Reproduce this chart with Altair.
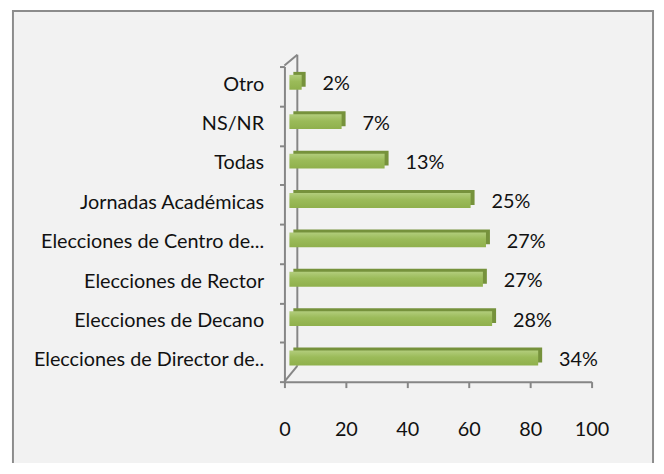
import altair as alt
import pandas as pd

categories = [
    "Otro",
    "NS/NR",
    "Todas",
    "Jornadas Académicas",
    "Elecciones de Centro de...",
    "Elecciones de Rector",
    "Elecciones de Decano",
    "Elecciones de Director de..",
]
values = [4, 17, 31, 59, 64, 63, 66, 81]
labels = ["2%", "7%", "13%", "25%", "27%", "27%", "28%", "34%"]
x_ticks = [0, 20, 40, 60, 80, 100]

df = pd.DataFrame({"cat": categories, "val": values, "lab": labels})
one = pd.DataFrame({"k": [0]})

W, H = 310, 318
FONT = "Lato"
FS = 20
AXIS_GRAY = "#868686"
TEXT = "#111111"

x_enc = alt.X(
    "val:Q",
    scale=alt.Scale(domain=[0, 100], nice=False, zero=True),
    axis=alt.Axis(
        values=x_ticks, title=None, grid=False,
        domainColor=AXIS_GRAY, domainWidth=2,
        tickColor=AXIS_GRAY, tickWidth=2, tickSize=6,
        labelPadding=32, labelFont=FONT, labelFontSize=FS, labelColor=TEXT,
        labelFlush=False, zindex=1,
    ),
)
y_enc = alt.Y(
    "cat:N", sort=categories,
    scale=alt.Scale(paddingInner=0, paddingOuter=0),
    axis=alt.Axis(
        title=None, domainColor=AXIS_GRAY, domainWidth=2,
        tickColor=AXIS_GRAY, tickWidth=2, tickSize=5, tickBand="extent",
        labelPadding=16, labelOffset=-2, labelFont=FONT, labelFontSize=FS,
        labelColor=TEXT, labelLimit=400, zindex=1,
    ),
)

bg = alt.Chart(one).mark_rect(fill="#f2f2f2", stroke="#8c8c8c", strokeWidth=2).encode(
    x=alt.value(-274), x2=alt.value(372), y=alt.value(-56), y2=alt.value(420)
)

wall = alt.Chart(one).mark_rule(color=AXIS_GRAY, strokeWidth=2).encode(
    x=alt.value(13), x2=alt.value(13), y=alt.value(-12), y2=alt.value(302)
)
diag_top = alt.Chart(one).mark_rule(color=AXIS_GRAY, strokeWidth=2).encode(
    x=alt.value(0), x2=alt.value(13), y=alt.value(-1), y2=alt.value(-12)
)
diag_bot = alt.Chart(one).mark_rule(color=AXIS_GRAY, strokeWidth=2).encode(
    x=alt.value(0), x2=alt.value(13), y=alt.value(318), y2=alt.value(302)
)

base = alt.Chart(df)
back = base.mark_bar(color="#76923c", size=15, xOffset=9, yOffset=-7).encode(x=x_enc, y=y_enc)
front = base.mark_bar(
    size=15, xOffset=5, yOffset=-4,
    color=alt.Gradient(
        gradient="linear",
        stops=[
            alt.GradientStop(color="#b2cd7c", offset=0),
            alt.GradientStop(color="#9bbb59", offset=0.45),
            alt.GradientStop(color="#8fb04c", offset=1),
        ],
        x1=0, x2=0, y1=0, y2=1,
    ),
).encode(x=x_enc, y=y_enc)
text = base.mark_text(
    align="left", baseline="middle", dx=26, dy=-2, font=FONT, fontSize=FS, color=TEXT
).encode(x=x_enc, y=y_enc, text="lab:N")

chart = alt.layer(bg, wall, diag_top, diag_bot, back, front, text).properties(
    width=W, height=H,
    padding={"left": 279, "top": 57, "right": 65, "bottom": 80},
    autosize=alt.AutoSizeParams(type="none"),
    background="white",
).configure_view(stroke=None)

chart.save("out.html", embed_options={"renderer": "svg", "actions": False})
